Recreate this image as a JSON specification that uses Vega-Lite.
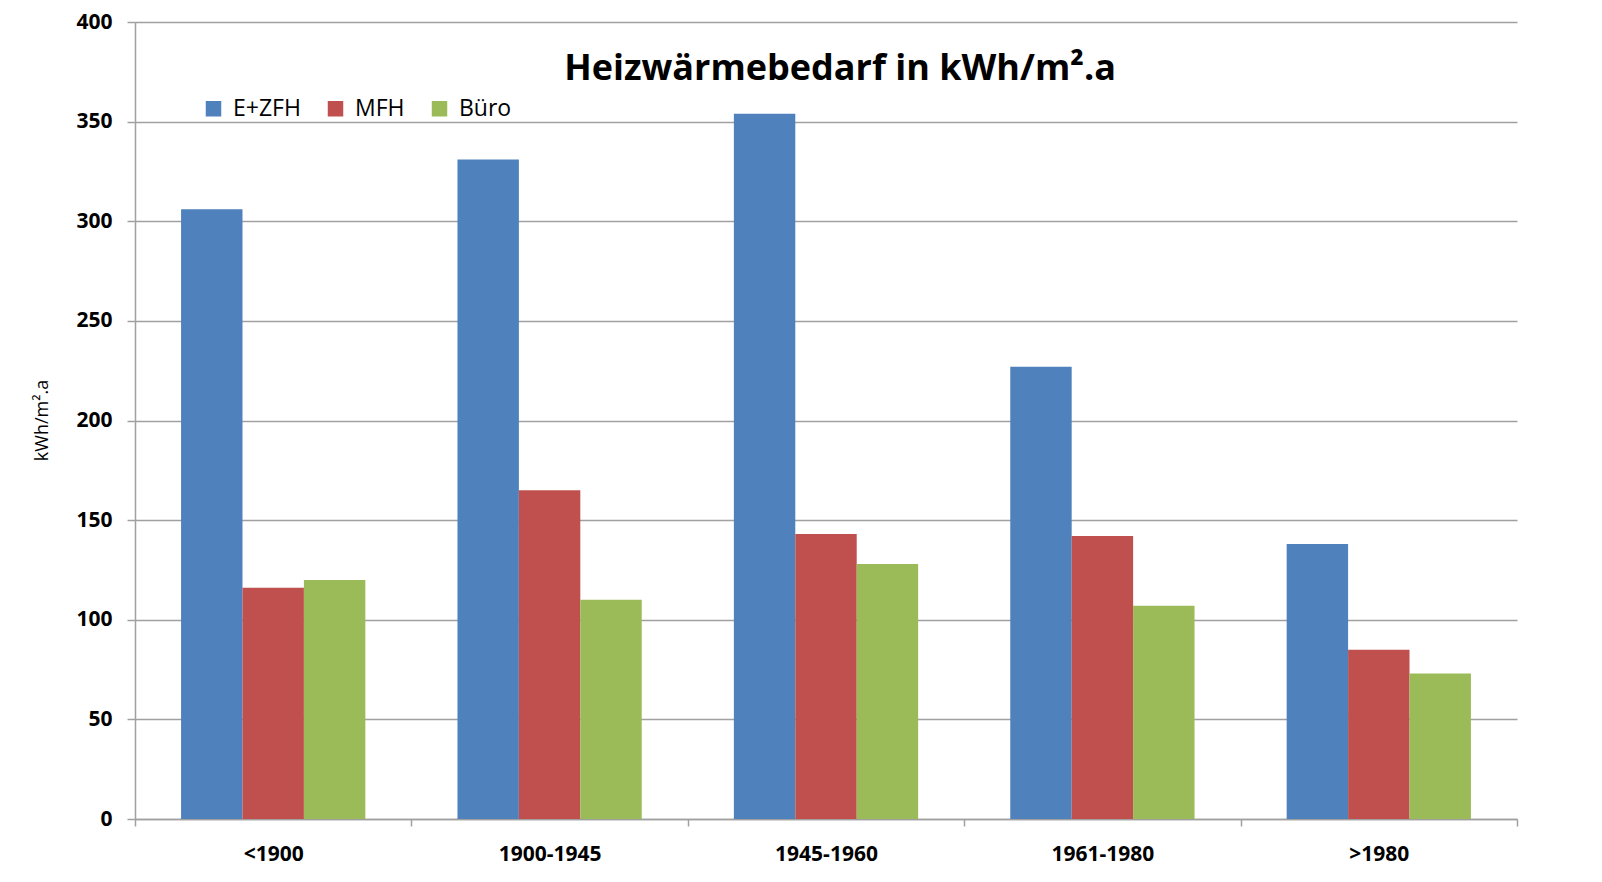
{
  "$schema": "https://vega.github.io/schema/vega-lite/v6.json",
  "autosize": "none",
  "width": 1382,
  "height": 797,
  "padding": {"left": 135, "top": 22, "right": 85, "bottom": 63},
  "background": "white",
  "title": {
    "text": "Heizwärmebedarf in kWh/m².a",
    "orient": "top",
    "anchor": "middle",
    "frame": "group",
    "baseline": "alphabetic",
    "offset": 0,
    "dy": 105,
    "dx": 14,
    "font": "Open Sans",
    "fontSize": 36,
    "fontWeight": "bold",
    "color": "#000000"
  },
  "data": {
    "values": [
      {"period": "<1900", "type": "E+ZFH", "value": 306},
      {"period": "<1900", "type": "MFH", "value": 116},
      {"period": "<1900", "type": "Büro", "value": 120},
      {"period": "1900-1945", "type": "E+ZFH", "value": 331},
      {"period": "1900-1945", "type": "MFH", "value": 165},
      {"period": "1900-1945", "type": "Büro", "value": 110},
      {"period": "1945-1960", "type": "E+ZFH", "value": 354},
      {"period": "1945-1960", "type": "MFH", "value": 143},
      {"period": "1945-1960", "type": "Büro", "value": 128},
      {"period": "1961-1980", "type": "E+ZFH", "value": 227},
      {"period": "1961-1980", "type": "MFH", "value": 142},
      {"period": "1961-1980", "type": "Büro", "value": 107},
      {"period": ">1980", "type": "E+ZFH", "value": 138},
      {"period": ">1980", "type": "MFH", "value": 85},
      {"period": ">1980", "type": "Büro", "value": 73}
    ]
  },
  "mark": {"type": "bar"},
  "encoding": {
    "x": {
      "field": "period",
      "type": "nominal",
      "sort": ["<1900", "1900-1945", "1945-1960", "1961-1980", ">1980"],
      "scale": {"paddingInner": 0, "paddingOuter": 0},
      "axis": {
        "title": null,
        "labelAngle": 0,
        "labelFont": "Open Sans",
        "labelFontSize": 21,
        "labelFontWeight": "bold",
        "labelColor": "#000000",
        "labelPadding": 17,
        "tickBand": "extent",
        "tickSize": 7,
        "tickColor": "#a0a0a0",
        "domainColor": "#a0a0a0",
        "domainWidth": 1.5,
        "tickWidth": 1.5,
        "grid": false
      }
    },
    "xOffset": {
      "field": "type",
      "type": "nominal",
      "sort": ["E+ZFH", "MFH", "Büro"],
      "scale": {"paddingInner": 0, "paddingOuter": 0.75}
    },
    "y": {
      "field": "value",
      "type": "quantitative",
      "scale": {"domain": [0, 400], "nice": false},
      "axis": {
        "title": "kWh/m².a",
        "titleFont": "Open Sans",
        "titleFontSize": 18,
        "titleFontWeight": "normal",
        "titleColor": "#000000",
        "titleAngle": -90,
        "titleAlign": "center",
        "titleBaseline": "middle",
        "titleX": -93,
        "titleY": 398,
        "values": [0, 50, 100, 150, 200, 250, 300, 350, 400],
        "labelFont": "Open Sans",
        "labelFontSize": 21,
        "labelFontWeight": "bold",
        "labelColor": "#000000",
        "labelPadding": 15,
        "tickSize": 8,
        "tickColor": "#a0a0a0",
        "tickWidth": 1.5,
        "domainColor": "#a0a0a0",
        "domainWidth": 1.5,
        "grid": true,
        "gridColor": "#a0a0a0",
        "gridWidth": 1.5
      }
    },
    "color": {
      "field": "type",
      "type": "nominal",
      "sort": ["E+ZFH", "MFH", "Büro"],
      "scale": {"domain": ["E+ZFH", "MFH", "Büro"], "range": ["#4F81BD", "#C0504D", "#9BBB59"]},
      "legend": {
        "title": null,
        "orient": "none",
        "direction": "horizontal",
        "legendX": 67,
        "legendY": 75,
        "symbolType": "square",
        "symbolSize": 240,
        "symbolStrokeWidth": 0,
        "labelFont": "Open Sans",
        "labelFontSize": 23,
        "labelColor": "#000000",
        "labelOffset": 8,
        "columnPadding": 23
      }
    }
  },
  "config": {
    "view": {"stroke": null}
  }
}
